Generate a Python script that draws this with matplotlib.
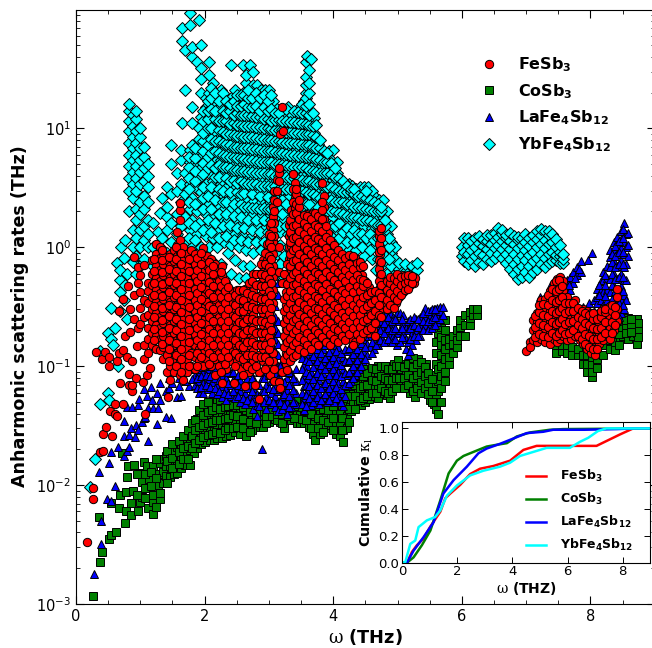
"""Anharmonic scattering rates of skutterudites, with cumulative kappa inset."""

import matplotlib
matplotlib.use('Agg')
import matplotlib.pyplot as plt
from matplotlib.ticker import MultipleLocator

plt.rcParams.update({
    'font.family': 'DejaVu Sans',
    'mathtext.fontset': 'dejavuserif',
    'xtick.direction': 'in',
    'ytick.direction': 'in',
})

# YbFe4Sb12: (omega, [rates])
YB_LEFT = [
    (0.22, [0.0097]), (0.30, [0.0166]), (0.37, [0.048, 0.135]), (0.49, [0.19]),
    (0.50, [0.06]), (0.51, [0.052]), (0.55, [0.17, 0.31]), (0.58, [0.15]),
    (0.61, [0.21]), (0.66, [0.10]), (0.64, [0.74]), (0.68, [0.29, 0.42]),
    (0.69, [0.53, 0.65]), (0.70, [1.0]), (0.74, [0.81, 0.36]), (0.76, [1.15, 0.48]),
    (0.79, [0.25, 0.6]), (0.82, [2.0, 3.0, 3.8, 4.8, 6.0, 7.6, 9.5, 11.5, 14, 16]),
    (0.88, [0.75, 1.0, 1.4, 2.6, 3.4, 4.3, 5.4, 6.8, 8.5, 10.5, 13]),
    (0.94, [0.6, 0.85, 1.2, 1.7, 2.1, 3.0, 3.8, 4.8, 6.0, 7.5, 9.5, 12, 14]),
    (1.00, [0.7, 1.0, 1.4, 1.9, 2.4, 3.4, 4.3, 5.4, 6.8, 8.5, 10]),
    (1.06, [0.8, 1.15, 1.5, 2.1, 2.7, 3.6, 4.6, 5.8, 7.0]),
    (1.12, [1.0, 1.3, 1.7, 2.4, 3.2, 4.0, 5.0]),
]
YB_CLOUD = [
    (1.20, [0.5, 0.7, 1.0, 1.6]), (1.27, [0.6, 0.85, 1.35]), (1.31, [1.0, 1.95]),
    (1.34, [0.75, 1.2, 2.6]), (1.42, [0.9, 1.4, 1.8, 2.2, 3.2]),
    (1.48, [0.7, 1.1, 1.6, 2.8, 5.0, 7.2]), (1.57, [1.3, 1.9, 3.0, 4.2]),
    (1.63, [0.9, 1.5, 2.4, 3.4, 5.4, 6.6]), (1.65, [11, 54, 70]),
    (1.70, [1.1, 1.8, 2.8, 4.2, 21, 46]), (1.77, [1.4, 2.1, 3.4, 5.2, 6.6, 74, 94]),
    (1.81, [1.0, 1.7, 2.6, 4.0, 7.2, 11, 15, 40, 48]),
    (1.88, [1.3, 2.0, 3.1, 4.9, 6.2, 36]), (1.91, [1.6, 2.4, 3.8, 8.2, 10, 82]),
    (1.95, [1.0, 2.9, 4.6, 5.8, 7.0, 12.5, 20, 26, 32, 50]),
    (2.02, [0.8, 1.25, 1.9, 3.4, 5.2, 6.5, 9, 11, 15, 18]),
    (2.07, [1.0, 1.5, 2.3, 2.9, 4.2, 7.4, 13, 20, 28, 36]),
    (2.13, [0.75, 1.2, 1.8, 3.6, 5.6, 9, 11, 16, 24]),
    (2.19, [1.0, 1.4, 2.2, 2.8, 4.4, 7, 13, 19]),
    (2.25, [0.72, 1.7, 3.4, 5.4, 8.6, 10.5, 15.5, 21]),
    (2.30, [1.1, 2.1, 2.7, 4.2, 6.7, 12.5, 18]),
    (2.36, [0.9, 1.35, 1.7, 3.3, 5.2, 8.2, 10, 15]),
    (2.41, [0.6, 1.05, 2.1, 2.6, 4.1, 6.5, 12, 18, 34]),
    (2.47, [0.78, 1.3, 1.65, 3.2, 5.1, 8, 9.8, 14.5, 21]),
    (2.53, [0.55, 1.0, 2.0, 2.5, 4, 6.2, 11.8, 17]),
    (2.59, [0.7, 1.25, 1.6, 3.1, 5, 7.8, 9.6, 14, 20, 34]),
    (2.65, [0.55, 0.95, 1.95, 2.45, 3.9, 6.1, 11.5, 16.5, 24, 28]),
    (2.71, [0.7, 1.2, 1.55, 3, 4.8, 7.6, 9.4, 13.8, 19, 34]),
    (2.76, [0.9, 1.9, 2.4, 3.8, 6, 11.2, 16, 23, 30]),
    (2.82, [1.15, 1.5, 2.95, 4.7, 7.4, 9.2, 13.5, 18, 23]),
    (2.88, [0.95, 1.85, 2.35, 3.7, 5.8, 11, 15.5, 21]),
    (2.94, [1.45, 2.9, 4.6, 7.2, 9, 13, 18, 21]),
    (3.00, [0.75, 1.8, 2.3, 3.6, 5.7, 10.8, 15, 21]),
    (3.06, [1.1, 1.4, 2.8, 4.5, 7, 8.8, 12.8, 17]),
    (3.12, [0.6, 0.88, 1.8, 3.5, 5.5, 10.5, 14.5]),
    (3.18, [0.72, 1.05, 1.35, 2.2, 2.7, 4.4, 6.9, 8.6, 12]),
    (3.24, [0.56, 0.85, 1.7, 3.4, 5.4, 10.2, 13.5]),
    (3.30, [1.0, 1.3, 2.1, 2.6, 4.3, 6.7, 8.4, 11.8, 15]),
    (3.36, [4.8, 5.3, 9.9, 13]),
    (3.42, [3.3, 4.2, 6.6, 8.2, 11.5]),
    (3.48, [2.7, 5.2, 9.6, 12.5, 15]),
    (3.54, [2.1, 3.2, 4.1, 6.4, 8, 11.2, 17]),
    (3.58, [20, 23, 27, 36]), (3.60, [2.5, 5.0, 9.4, 12, 14.5, 41]),
    (3.65, [2.1, 3.1, 4, 6.2, 7.8, 11, 38]),
    (3.70, [2.4, 4.9, 9.2, 12.2]),
    (3.76, [2.2, 3.0, 3.9, 6.1, 7.4]),
    (3.82, [3.7, 4.8, 5.5]),
    (3.88, [1.6, 2.9, 3.8, 6.0]),
    (3.94, [1.3, 2.3, 4.7, 5.6, 6.5]),
    (4.00, [1.2, 1.8, 2.8, 3.7, 6.6]),
    (4.06, [1.1, 1.4, 2.2, 4.2, 5.2]),
    (4.12, [1.0, 1.7, 2.7, 3.5]),
    (4.18, [1.25, 2.1, 3.2]),
    (4.24, [0.95, 1.6, 2.6, 3.4]),
    (4.30, [1.2, 2.0, 3.3]),
    (4.36, [0.95, 1.55, 2.5, 3.1]),
    (4.42, [1.15, 1.95, 2.9, 3.2]),
    (4.48, [0.85, 1.5, 2.4, 3.2]),
    (4.54, [1.1, 1.9, 2.8, 3.2]),
    (4.60, [0.8, 1.45, 2.3, 3.0]),
    (4.66, [0.65, 1.05, 1.85, 2.6]),
    (4.72, [1.4, 2.2, 2.5]),
    (4.78, [0.72, 1.0, 1.8, 2.5]),
    (4.84, [0.6, 1.3, 2.0]),
    (4.90, [0.7, 0.9, 1.1, 1.5]),
    (4.96, [0.6, 0.8, 1.0]),
    (5.03, [0.66, 0.74]), (5.12, [0.62, 0.72]), (5.22, [0.6, 0.7]), (5.30, [0.65, 0.74]),
]
YB_FILL = [
    (1.75, [1.2, 1.6, 2.4, 3.1, 3.8, 4.7, 5.8]),
    (1.85, [1.15, 1.5, 2.3, 3.6, 4.4, 5.6, 6.9]),
    (1.98, [1.4, 2.1, 2.6, 3.2, 4.1, 5.1, 6.4, 7.8, 9.2, 11.5, 14]),
    (2.05, [1.7, 2.7, 4.6, 5.8, 7.2, 10, 12, 14, 17]),
    (2.10, [1.35, 2.1, 3.2, 4.9, 6.2, 8.2, 10, 14.5, 18, 22]),
    (2.16, [1.6, 2.5, 3.9, 4.6, 6.4, 7.8, 12, 14, 20]),
    (2.22, [1.2, 1.9, 3.1, 3.9, 4.9, 6.2, 7.8, 9.6, 11.5, 17]),
    (2.28, [1.5, 2.4, 3.0, 4.7, 6, 7.5, 9.4, 11.5, 14, 20]),
    (2.34, [1.25, 1.9, 2.4, 3.8, 4.7, 5.9, 7.4, 9, 11.5, 13.5, 17]),
    (2.39, [1.55, 2.9, 3.6, 4.6, 5.7, 7.2, 9, 10.8, 14, 16]),
    (2.45, [1.15, 1.85, 2.3, 3.7, 4.5, 5.7, 7, 8.8, 11, 13, 17]),
    (2.50, [1.45, 2.9, 3.5, 4.5, 5.6, 7, 8.7, 10.6, 13.5, 15.5, 19]),
    (2.56, [1.15, 1.8, 2.3, 2.8, 3.6, 4.4, 5.6, 6.9, 8.6, 10.7, 13, 15.5, 19]),
    (2.62, [1.45, 2.2, 2.85, 3.5, 4.4, 5.5, 6.9, 8.5, 10.5, 13, 16, 19]),
    (2.68, [1.1, 1.7, 2.2, 3.4, 4.3, 5.4, 6.8, 8.4, 10.4, 13, 15, 18, 21]),
    (2.74, [1.4, 2.15, 2.8, 3.4, 4.3, 5.4, 6.7, 8.4, 10.4, 12.8, 15, 18]),
    (2.80, [1.1, 1.7, 2.15, 3.4, 4.2, 5.3, 6.7, 8.3, 10.3, 12.5, 15.5, 20]),
    (2.86, [1.35, 2.1, 2.7, 3.3, 4.2, 5.2, 6.6, 8.2, 10.2, 12.5, 14, 18]),
    (2.92, [1.1, 1.7, 2.15, 3.3, 4.2, 5.2, 6.4, 8.1, 10, 12, 15, 19]),
    (2.98, [1.35, 2.1, 2.65, 3.3, 4.1, 5.2, 6.4, 8, 10, 12, 14, 17]),
    (3.04, [1.7, 2.1, 3.2, 4.1, 5.2, 6.4, 8, 9.8, 11.5, 14.5, 19]),
    (3.09, [2.2, 2.6, 3.3, 4, 5, 6.3, 7.9, 9.6, 11.8, 13.5]),
    (3.15, [1.5, 2.1, 3.1, 4, 5, 6.2, 7.8, 9.6, 11.8, 13.5]),
    (3.21, [1.9, 2.5, 3.1, 3.9, 4.9, 6.2, 7.7, 9.6, 11.5]),
    (3.27, [1.5, 2.3, 3.1, 3.9, 4.9, 6.1, 7.6, 9.4, 11.5, 14.5]),
    (3.33, [3.1, 3.8, 4.8, 6, 7.6, 9.3, 11.4]),
    (3.39, [3.8, 4.7, 6, 7.5, 9.2, 11.3, 14]),
    (3.45, [3.0, 3.7, 4.7, 5.9, 7.4, 9.1, 11.2, 13.7]),
    (3.51, [2.4, 3, 3.7, 4.7, 5.9, 7.4, 9, 11, 13.5, 16]),
    (3.57, [2.3, 2.9, 3.6, 4.6, 5.8, 7.2, 9, 10.8, 13.5, 15.5, 18]),
    (3.63, [2.3, 2.8, 3.6, 4.5, 5.7, 7.2, 9, 10.6, 13, 16, 20, 24, 31]),
    (3.68, [2.8, 3.5, 4.4, 5.6, 7, 8.8, 10.5, 13.5]),
    (3.73, [2.7, 3.4, 4.3, 5.5, 6.8, 8.4, 10.6]),
    (3.79, [2.6, 3.4, 4.2, 5.4, 6.8, 8]),
    (3.85, [2.5, 3.3, 4.2, 5.2, 6.4]),
    (3.91, [2.0, 2.5, 3.2, 4.2, 5.2, 6.2]),
    (3.97, [1.5, 2, 2.5, 3.2, 4.1, 5.1]),
    (4.03, [1.5, 2.0, 2.4, 3.1, 3.9, 4.6]),
    (4.09, [1.2, 1.6, 1.95, 2.4, 3, 3.8]),
    (4.15, [1.35, 1.9, 2.4, 2.9, 3.6]),
    (4.21, [1.1, 1.45, 1.85, 2.3, 2.9, 3.3]),
    (4.27, [1.3, 1.8, 2.3, 2.9, 3.1]),
    (4.33, [1.1, 1.4, 1.8, 2.2, 2.8, 3.1]),
    (4.39, [1.3, 1.75, 2.2, 2.7]),
    (4.45, [1.0, 1.3, 1.7, 2.15, 2.7]),
    (4.51, [1.2, 1.7, 2.1, 2.6, 3.0]),
    (4.57, [0.95, 1.3, 1.65, 2.05, 2.5]),
    (4.63, [1.15, 1.6, 2.0, 2.4]),
    (4.69, [0.8, 1.2, 1.55, 2.0, 2.3]),
    (4.75, [0.9, 1.25, 1.55, 2.0, 2.2]),
    (4.81, [0.85, 1.15, 1.5, 1.7]),
    (4.87, [0.8, 1.0, 1.2]),
]
YB_ISLAND = [
    (6.00, [0.85, 1.0]), (6.03, [0.76, 0.92, 1.19]), (6.09, [0.72, 0.87, 1.04, 1.2]),
    (6.15, [0.78, 0.95, 1.12]), (6.21, [0.7, 0.84, 1.0, 1.2]),
    (6.27, [0.75, 0.9, 1.08, 1.24]), (6.33, [0.72, 0.86, 1.02, 1.18]),
    (6.39, [0.8, 0.96, 1.12, 1.28]), (6.45, [0.76, 0.9, 1.06, 1.26]),
    (6.51, [0.82, 0.98, 1.15, 1.32]), (6.57, [0.88, 1.04, 1.22, 1.45]),
    (6.63, [0.82, 0.96, 1.12, 1.3, 1.4]), (6.69, [0.74, 0.88, 1.04, 1.2, 1.28]),
    (6.75, [0.66, 0.8, 0.96, 1.14, 1.32]), (6.81, [0.6, 0.72, 0.88, 1.06, 1.24]),
    (6.87, [0.54, 0.66, 0.8, 0.98, 1.16, 1.22]), (6.93, [0.56, 0.7, 0.86, 1.04, 1.2]),
    (6.99, [0.62, 0.78, 0.94, 1.1, 1.3]), (7.05, [0.56, 0.7, 0.86, 1.02, 1.2]),
    (7.11, [0.62, 0.76, 0.92, 1.1, 1.28]), (7.17, [0.66, 0.82, 1.0, 1.18, 1.36]),
    (7.23, [0.72, 0.88, 1.06, 1.26, 1.42]), (7.29, [0.68, 0.82, 0.98, 1.16, 1.36]),
    (7.35, [0.74, 0.88, 1.06, 1.26, 1.36]), (7.41, [0.76, 0.92, 1.1, 1.3]),
    (7.47, [0.78, 0.86, 1.0, 1.18]), (7.53, [0.74, 0.84, 0.92, 1.05]),
    (7.58, [0.74, 0.8, 0.88]),
]

# CoSb3
CO_LEFT = [
    (0.27, [0.00117]), (0.36, [0.0054]), (0.38, [0.00226]), (0.40, [0.00272]),
    (0.51, [0.0035]), (0.54, [0.0071]), (0.55, [0.0038]), (0.62, [0.004]),
    (0.67, [0.0064]), (0.68, [0.0083]), (0.71, [0.0187]), (0.76, [0.0048]),
    (0.77, [0.0088]), (0.78, [0.0061]), (0.80, [0.0116]), (0.81, [0.0145]),
    (0.85, [0.0056, 0.0071]), (0.88, [0.009]), (0.90, [0.0148]), (0.97, [0.006]),
    (1.00, [0.0072, 0.0126]), (1.02, [0.008, 0.0107]), (1.05, [0.0155]),
    (1.11, [0.0145]), (1.125, [0.0064]), (1.14, [0.0112]), (1.19, [0.0057, 0.0072, 0.0083]),
    (1.20, [0.0145]), (1.28, [0.01, 0.0125]), (1.30, [0.0076, 0.0086, 0.0152]),
    (1.33, [0.0166]), (1.36, [0.0105, 0.013]), (1.40, [0.012, 0.0145, 0.0175]),
]
CO_BAND = [
    (1.46, [0.0117, 0.0145, 0.0182]), (1.52, [0.0125, 0.0155, 0.0195]),
    (1.57, [0.0127, 0.016, 0.021]), (1.63, [0.014, 0.0175, 0.022]),
    (1.70, [0.0148, 0.0185, 0.0232]), (1.77, [0.0148, 0.0197, 0.0245, 0.027]),
    (1.83, [0.0185, 0.0232, 0.029]), (1.88, [0.0205, 0.026, 0.031, 0.036]),
    (1.95, [0.022, 0.028, 0.034, 0.04]), (2.01, [0.023, 0.029, 0.036, 0.044]),
    (2.08, [0.024, 0.03, 0.037, 0.047]), (2.14, [0.024, 0.03, 0.038, 0.052]),
    (2.20, [0.0247, 0.032, 0.041, 0.05]), (2.27, [0.025, 0.031, 0.039, 0.048]),
    (2.34, [0.026, 0.033, 0.042]), (2.40, [0.0263, 0.032, 0.04, 0.05]),
    (2.47, [0.028, 0.035, 0.044]), (2.55, [0.027, 0.033, 0.041]),
    (2.65, [0.0257, 0.032, 0.04, 0.043]), (2.74, [0.029, 0.036, 0.046]),
    (2.86, [0.031, 0.038, 0.0457]), (2.91, [0.031, 0.035, 0.042]),
    (3.00, [0.034, 0.04, 0.047]), (3.09, [0.036, 0.043]), (3.17, [0.034, 0.049]),
    (3.24, [0.03, 0.037, 0.044]), (3.35, [0.035, 0.042, 0.05]),
    (3.43, [0.033, 0.04, 0.052]), (3.48, [0.0331, 0.039]), (3.55, [0.033, 0.04, 0.05]),
    (3.62, [0.031, 0.038, 0.047]), (3.69, [0.027, 0.035, 0.045]),
    (3.72, [0.024, 0.03, 0.038]), (3.80, [0.027, 0.034, 0.042, 0.05]),
    (3.88, [0.03, 0.037, 0.047]), (3.96, [0.032, 0.04, 0.05]),
    (4.05, [0.027, 0.034, 0.043, 0.054]), (4.10, [0.026, 0.033, 0.041]),
    (4.16, [0.0232, 0.029, 0.037, 0.047]), (4.21, [0.03, 0.038, 0.05, 0.062]),
    (4.27, [0.042, 0.053, 0.068]), (4.31, [0.048, 0.06, 0.0718]),
    (4.38, [0.05, 0.064, 0.08]), (4.44, [0.047, 0.058, 0.072, 0.086]),
    (4.50, [0.05, 0.062, 0.078, 0.09]), (4.56, [0.053, 0.066, 0.083]),
    (4.63, [0.056, 0.07, 0.09]), (4.70, [0.054, 0.068, 0.085, 0.10]),
    (4.77, [0.06, 0.075, 0.095]), (4.83, [0.057, 0.07, 0.088]),
    (4.88, [0.0537, 0.065, 0.08, 0.10]), (4.95, [0.068, 0.085, 0.105]),
    (5.00, [0.072, 0.09, 0.112]), (5.06, [0.075, 0.095]),
    (5.13, [0.068, 0.084, 0.105]), (5.20, [0.06, 0.075, 0.092, 0.115]),
    (5.27, [0.055, 0.068, 0.085, 0.105]), (5.32, [0.0766, 0.094, 0.115]),
    (5.38, [0.066, 0.08, 0.1]), (5.45, [0.06, 0.072, 0.09, 0.105]),
    (5.50, [0.052, 0.065, 0.08]), (5.56, [0.048, 0.058, 0.072]),
    (5.60, [0.044, 0.055, 0.068, 0.085, 0.105, 0.13, 0.16]),
    (5.63, [0.04, 0.05, 0.062, 0.075, 0.095, 0.19]),
    (5.68, [0.05, 0.065, 0.082, 0.1, 0.125, 0.15, 0.175, 0.215]),
    (5.74, [0.075, 0.09, 0.115, 0.14, 0.165, 0.2, 0.245]),
    (5.80, [0.105, 0.12, 0.15, 0.17]), (5.86, [0.13, 0.155, 0.18]),
    (5.92, [0.145, 0.166, 0.2]), (5.97, [0.18, 0.215, 0.245]),
    (6.05, [0.18, 0.22, 0.27]), (6.12, [0.22, 0.255, 0.285]), (6.18, [0.27, 0.3]),
    (6.23, [0.27, 0.302]),
]
CO_FILL = [
    (0.95, [0.0082, 0.0125]), (1.08, [0.0078, 0.0095, 0.0125]), (1.17, [0.0098, 0.0128]),
    (1.25, [0.0065, 0.0115, 0.0165]), (1.42, [0.0105, 0.016, 0.0195]),
    (1.50, [0.0138, 0.017, 0.022]), (1.60, [0.015, 0.019, 0.0235]),
    (1.67, [0.0165, 0.0205, 0.026]), (1.74, [0.0165, 0.0215, 0.029]),
    (1.80, [0.0205, 0.026, 0.033]), (1.85, [0.0225, 0.029, 0.035]),
    (1.92, [0.024, 0.031, 0.043]), (1.98, [0.0255, 0.032, 0.039, 0.048]),
    (2.05, [0.0265, 0.033, 0.041, 0.05]), (2.11, [0.027, 0.034, 0.043]),
    (2.17, [0.028, 0.035, 0.045]), (2.24, [0.0275, 0.035, 0.044, 0.052]),
    (2.31, [0.029, 0.036, 0.045]), (2.37, [0.03, 0.037, 0.046]),
    (2.44, [0.0305, 0.039, 0.047]), (2.51, [0.031, 0.038, 0.047]),
    (2.60, [0.03, 0.036, 0.045]), (2.70, [0.028, 0.034, 0.041]),
    (2.80, [0.033, 0.04, 0.048]), (2.95, [0.033, 0.038, 0.045]),
    (3.05, [0.038, 0.044]), (3.13, [0.035, 0.04, 0.047]), (3.21, [0.033, 0.04, 0.047]),
    (3.30, [0.038, 0.045]), (3.39, [0.037, 0.046]), (3.52, [0.036, 0.045]),
    (3.58, [0.035, 0.043]), (3.66, [0.03, 0.04, 0.05]), (3.76, [0.03, 0.037, 0.046]),
    (3.84, [0.028, 0.035, 0.044, 0.052]), (3.92, [0.034, 0.043, 0.054]),
    (4.00, [0.029, 0.037, 0.046, 0.057]), (4.13, [0.029, 0.037, 0.046, 0.056]),
    (4.24, [0.034, 0.044, 0.056, 0.068]), (4.34, [0.044, 0.056, 0.07, 0.082]),
    (4.41, [0.052, 0.065, 0.082, 0.09]), (4.47, [0.054, 0.068, 0.082, 0.095]),
    (4.53, [0.056, 0.07, 0.088]), (4.60, [0.06, 0.076, 0.096]),
    (4.67, [0.06, 0.075, 0.095]), (4.74, [0.065, 0.082, 0.1]),
    (4.80, [0.062, 0.079, 0.1]), (4.86, [0.06, 0.076, 0.095]),
    (4.92, [0.062, 0.076, 0.094]), (4.98, [0.066, 0.08, 0.1]),
    (5.03, [0.08, 0.1]), (5.10, [0.065, 0.08, 0.098]), (5.17, [0.07, 0.085, 0.105]),
    (5.24, [0.062, 0.08, 0.098, 0.118]), (5.30, [0.065, 0.085, 0.105]),
    (5.36, [0.06, 0.074, 0.09, 0.108]), (5.42, [0.066, 0.082, 0.098]),
    (5.48, [0.058, 0.072, 0.088]), (5.53, [0.05, 0.062, 0.078]),
]
CO_RIGHT = [
    (7.47, [0.13, 0.15]), (7.56, [0.135, 0.15]), (7.64, [0.13, 0.15]), (7.72, [0.125, 0.145]),
    (7.81, [0.124, 0.14]), (7.89, [0.105, 0.125]), (7.95, [0.09, 0.105, 0.125]),
    (8.02, [0.081, 0.09, 0.105, 0.12]), (8.10, [0.096, 0.115, 0.135]),
    (8.20, [0.125, 0.15]), (8.30, [0.14, 0.165, 0.19]), (8.38, [0.137, 0.16, 0.185, 0.21]),
    (8.46, [0.17, 0.2, 0.235]), (8.51, [0.18, 0.21, 0.26]), (8.58, [0.17, 0.2, 0.23, 0.255]),
    (8.67, [0.18, 0.21, 0.25]), (8.72, [0.155, 0.19, 0.22, 0.25]), (8.74, [0.175, 0.205, 0.23]),
    (8.44, [0.15, 0.185, 0.215]), (8.55, [0.19, 0.22, 0.245]), (8.63, [0.195, 0.225, 0.25]),
]

# LaFe4Sb12
LA_LEFT = [
    (0.28, [0.0018]), (0.35, [0.013]), (0.39, [0.0032, 0.005]), (0.48, [0.0076]),
    (0.52, [0.0152]), (0.55, [0.0074, 0.0189]), (0.61, [0.0098]), (0.66, [0.021]),
    (0.75, [0.0174, 0.0257, 0.0348]), (0.79, [0.0195, 0.0457]), (0.83, [0.021, 0.0263]),
    (0.85, [0.0302]), (0.87, [0.0457]), (0.92, [0.0252]), (0.94, [0.032]), (0.96, [0.0291]),
    (0.97, [0.0472]), (0.985, [0.0533]), (1.02, [0.034]), (1.06, [0.064, 0.037]),
    (1.07, [0.0377]), (1.11, [0.0562]), (1.125, [0.0235, 0.0443]), (1.16, [0.0665]),
    (1.18, [0.052]), (1.20, [0.0443]), (1.255, [0.0327, 0.06]), (1.28, [0.0443]),
    (1.30, [0.052, 0.072]), (1.395, [0.0377, 0.062]), (1.44, [0.065, 0.08]),
    (1.48, [0.0365]), (1.57, [0.0554]), (1.63, [0.0562]), (1.75, [0.068]),
]
LA_BAND = [
    (1.85, [0.07, 0.085, 0.1]), (1.92, [0.06, 0.075, 0.09]), (1.98, [0.059, 0.072, 0.09]),
    (2.05, [0.064, 0.078, 0.095]), (2.12, [0.06, 0.074, 0.09]), (2.20, [0.058, 0.07, 0.085]),
    (2.27, [0.055, 0.068, 0.082]), (2.34, [0.052, 0.065, 0.08]), (2.41, [0.056, 0.07, 0.088]),
    (2.48, [0.054, 0.066, 0.08]), (2.55, [0.05, 0.062, 0.076]), (2.63, [0.048, 0.06, 0.074]),
    (2.70, [0.056, 0.07, 0.09]), (2.76, [0.044, 0.054, 0.066, 0.08]),
    (2.81, [0.038, 0.047, 0.058]), (2.89, [0.0201, 0.05, 0.062, 0.08]),
    (2.96, [0.044, 0.055, 0.07, 0.09]), (3.03, [0.048, 0.06, 0.075]),
    (3.06, [0.14, 0.17, 0.2, 0.24]), (3.10, [0.045, 0.056, 0.07, 0.088, 0.11, 0.135, 0.17, 0.21, 0.26, 0.32]),
    (3.14, [0.042, 0.05, 0.062, 0.08, 0.1, 0.125, 0.155, 0.19, 0.24, 0.4, 0.5]),
    (3.20, [0.044, 0.056, 0.07, 0.09, 0.11]), (3.28, [0.04, 0.05, 0.063, 0.08]),
    (3.35, [0.045, 0.056, 0.07, 0.088]), (3.42, [0.048, 0.06, 0.075, 0.095]),
    (3.54, [0.043, 0.054, 0.068, 0.085, 0.105, 0.13]),
    (3.60, [0.05, 0.062, 0.078, 0.1, 0.125]), (3.66, [0.047, 0.058, 0.072, 0.09, 0.115, 0.14]),
    (3.72, [0.052, 0.065, 0.082, 0.105, 0.13]), (3.78, [0.048, 0.06, 0.076, 0.095, 0.12, 0.15]),
    (3.84, [0.055, 0.07, 0.088, 0.11, 0.14]), (3.90, [0.05, 0.062, 0.078, 0.1, 0.125, 0.16]),
    (3.96, [0.056, 0.07, 0.09, 0.112, 0.14]), (4.02, [0.05, 0.063, 0.08, 0.1, 0.125]),
    (4.08, [0.056, 0.072, 0.09, 0.114, 0.145]), (4.16, [0.046, 0.06, 0.075, 0.095, 0.12]),
    (4.22, [0.068, 0.085, 0.108, 0.135]), (4.28, [0.075, 0.095, 0.12, 0.15]),
    (4.34, [0.084, 0.106, 0.132, 0.166]), (4.40, [0.095, 0.12, 0.15]),
    (4.47, [0.11, 0.135, 0.17, 0.19]), (4.53, [0.125, 0.155, 0.19]),
    (4.57, [0.146, 0.18, 0.22]), (4.63, [0.14, 0.17, 0.21]), (4.70, [0.15, 0.18, 0.22, 0.26]),
    (4.76, [0.17, 0.21, 0.25]), (4.82, [0.16, 0.2, 0.24, 0.28]), (4.88, [0.18, 0.22, 0.28]),
    (4.93, [0.178, 0.22, 0.26]), (4.99, [0.15, 0.19, 0.24, 0.28]), (5.04, [0.16, 0.2, 0.28]),
    (5.09, [0.19, 0.23, 0.27]), (5.13, [0.14, 0.17, 0.21]), (5.17, [0.124, 0.16, 0.2, 0.24]),
    (5.23, [0.15, 0.19, 0.23]), (5.29, [0.165, 0.2, 0.25]), (5.35, [0.18, 0.22, 0.26]),
    (5.43, [0.22, 0.26, 0.31]), (5.50, [0.22, 0.265, 0.29]), (5.56, [0.24, 0.27, 0.3]),
    (5.62, [0.235, 0.27, 0.31]), (5.66, [0.25, 0.29, 0.316]), (5.71, [0.27, 0.316]),
]
LA_FILL = [
    (1.50, [0.072, 0.09]), (1.60, [0.068, 0.08, 0.098]), (1.70, [0.075, 0.09]),
    (1.80, [0.078, 0.094]), (1.88, [0.065, 0.08, 0.095]), (1.95, [0.067, 0.082, 0.098]),
    (2.02, [0.07, 0.085]), (2.08, [0.067, 0.082, 0.1]), (2.16, [0.065, 0.08, 0.095]),
    (2.23, [0.062, 0.076, 0.092]), (2.30, [0.06, 0.074, 0.09]), (2.37, [0.058, 0.072, 0.09]),
    (2.44, [0.062, 0.076, 0.09]), (2.52, [0.056, 0.07, 0.085]), (2.59, [0.054, 0.068, 0.084]),
    (2.66, [0.052, 0.065, 0.08]), (2.73, [0.05, 0.062, 0.08, 0.096]),
    (2.85, [0.046, 0.056, 0.07, 0.09]), (2.93, [0.05, 0.062, 0.08, 0.098]),
    (3.00, [0.052, 0.066, 0.084]), (3.06, [0.05, 0.064, 0.08, 0.1]),
    (3.17, [0.05, 0.064, 0.08, 0.1]), (3.24, [0.047, 0.058, 0.073, 0.09]),
    (3.31, [0.045, 0.056, 0.07, 0.09]), (3.38, [0.05, 0.063, 0.08]),
    (3.51, [0.048, 0.06, 0.076, 0.095, 0.118]), (3.57, [0.046, 0.057, 0.07, 0.09, 0.112, 0.14]),
    (3.63, [0.054, 0.068, 0.085, 0.11, 0.135]), (3.69, [0.05, 0.062, 0.078, 0.098, 0.122, 0.15]),
    (3.75, [0.055, 0.07, 0.088, 0.11, 0.14]), (3.81, [0.052, 0.065, 0.082, 0.102, 0.13]),
    (3.87, [0.058, 0.072, 0.094, 0.118, 0.15]), (3.93, [0.052, 0.066, 0.084, 0.105, 0.132]),
    (3.99, [0.06, 0.075, 0.095, 0.12, 0.15]), (4.05, [0.054, 0.067, 0.085, 0.107, 0.135]),
    (4.12, [0.05, 0.064, 0.082, 0.103, 0.13]), (4.19, [0.056, 0.07, 0.088, 0.11, 0.14]),
    (4.25, [0.072, 0.09, 0.113, 0.142]), (4.31, [0.08, 0.1, 0.126, 0.158]),
    (4.37, [0.09, 0.113, 0.14, 0.176]), (4.44, [0.1, 0.126, 0.158, 0.19]),
    (4.50, [0.115, 0.145, 0.18]), (4.60, [0.13, 0.16, 0.2, 0.24]),
    (4.66, [0.15, 0.185, 0.23]), (4.73, [0.165, 0.2, 0.24]), (4.79, [0.16, 0.19, 0.23]),
    (4.85, [0.17, 0.21, 0.26]), (4.91, [0.16, 0.2, 0.24]), (4.96, [0.17, 0.21, 0.25]),
    (5.07, [0.175, 0.21, 0.25]), (5.20, [0.135, 0.17, 0.21, 0.25]), (5.26, [0.18, 0.22, 0.26]),
    (5.32, [0.18, 0.215, 0.25]), (5.39, [0.2, 0.24, 0.28]), (5.47, [0.2, 0.24, 0.29]),
    (5.53, [0.21, 0.25, 0.3]), (5.59, [0.22, 0.26, 0.3]),
]
LA_RIGHT = [
    (7.21, [0.3, 0.385]), (7.37, [0.35, 0.47]), (7.50, [0.4, 0.5]), (7.63, [0.4, 0.53]),
    (7.68, [0.44, 0.56]), (7.73, [0.5, 0.62]), (7.79, [0.58, 0.68]), (7.86, [0.62, 0.76]),
    (7.97, [0.78]), (8.02, [0.89]), (7.89, [0.25, 0.316]), (7.98, [0.28, 0.34]),
    (8.05, [0.29, 0.36]), (8.10, [0.34, 0.385, 0.45]), (8.16, [0.36, 0.44, 0.52]),
    (8.20, [0.33, 0.42, 0.53, 0.62]), (8.26, [0.36, 0.44, 0.55, 0.7]),
    (8.30, [0.32, 0.42, 0.54, 0.68, 0.83, 0.95]), (8.36, [0.28, 0.37, 0.47, 0.6, 0.76, 0.94, 1.1]),
    (8.41, [0.24, 0.32, 0.42, 0.54, 0.7, 0.88, 1.05, 1.23]),
    (8.48, [0.28, 0.36, 0.47, 0.6, 0.78, 0.98, 1.18, 1.38]),
    (8.53, [0.3, 0.4, 0.53, 0.68, 0.88, 1.1, 1.6]), (8.56, [0.36, 0.53, 0.72, 1.0, 1.3]),
    (8.59, [0.85, 1.05, 1.31]),
    (7.66, [0.48]), (7.76, [0.55]), (7.83, [0.66]), (8.13, [0.4, 0.48]), (8.23, [0.39, 0.48, 0.59]),
    (8.33, [0.37, 0.48, 0.6, 0.75, 0.88]), (8.39, [0.33, 0.43, 0.54, 0.68, 0.85, 1.02]),
    (8.45, [0.26, 0.34, 0.44, 0.56, 0.72, 0.92, 1.12]), (8.51, [0.33, 0.43, 0.56, 0.72, 0.92, 1.2, 1.42]),
]

# FeSb3
FE_LEFT = [
    (0.177, [0.0033]), (0.26, [0.0076, 0.0095]), (0.31, [0.131]), (0.37, [0.019]),
    (0.40, [0.114]), (0.415, [0.027]), (0.425, [0.0195]), (0.45, [0.131]), (0.467, [0.031]),
    (0.52, [0.10, 0.119]), (0.53, [0.042]), (0.555, [0.026]), (0.607, [0.04, 0.048]),
    (0.63, [0.111]), (0.643, [0.038]), (0.67, [0.128, 0.29]), (0.685, [0.072]),
    (0.726, [0.048]), (0.736, [0.137, 0.37]), (0.76, [0.18]), (0.80, [0.119]),
    (0.81, [0.47]), (0.83, [0.0695, 0.086]), (0.84, [0.193, 0.3]), (0.866, [0.062]),
    (0.876, [0.11, 0.07]), (0.90, [0.83, 0.25, 0.4]), (0.93, [0.079]), (0.944, [0.149]),
    (0.97, [0.21, 0.5, 0.68]), (1.00, [0.226, 0.31, 0.42, 0.58]), (1.04, [0.073]),
    (1.05, [0.71, 0.36, 0.26]), (1.06, [0.116, 0.151]), (1.07, [0.04]), (1.11, [0.085]),
    (1.436, [0.055]), (1.15, [0.096]),
]
FE_BLOB1 = [
    (1.12, [0.13, 0.17, 0.21, 0.27, 0.34, 0.43, 0.5]),
    (1.18, [0.15, 0.19, 0.24, 0.3, 0.38, 0.48, 0.6, 0.78]),
    (1.25, [0.14, 0.18, 0.22, 0.28, 0.35, 0.44, 0.55, 0.7, 0.88, 1.07]),
    (1.30, [0.137, 0.17, 0.21, 0.26, 0.33, 0.41, 0.52, 0.65, 0.82, 1.0]),
    (1.36, [0.115, 0.145, 0.18, 0.23, 0.29, 0.37, 0.46, 0.58, 0.72, 0.9]),
    (1.42, [0.09, 0.125, 0.155, 0.2, 0.25, 0.31, 0.39, 0.49, 0.62, 0.78]),
    (1.46, [0.077, 0.1, 0.14, 0.175, 0.22, 0.275, 0.35, 0.44, 0.55, 0.69, 0.87]),
    (1.52, [0.09, 0.115, 0.15, 0.19, 0.24, 0.3, 0.38, 0.48, 0.6, 0.76, 0.95]),
    (1.57, [0.1, 0.13, 0.165, 0.21, 0.26, 0.33, 0.42, 0.53, 0.67, 0.84, 1.05, 1.35]),
    (1.61, [0.085, 0.11, 0.145, 0.18, 0.23, 0.29, 0.36, 0.46, 0.58, 0.74, 0.92, 1.15, 1.7, 2.06, 2.35]),
    (1.67, [0.077, 0.1, 0.125, 0.16, 0.2, 0.25, 0.32, 0.4, 0.5, 0.64, 0.8, 1.0]),
    (1.73, [0.09, 0.115, 0.14, 0.18, 0.22, 0.28, 0.35, 0.44, 0.56, 0.7, 0.88]),
    (1.79, [0.1, 0.13, 0.16, 0.2, 0.25, 0.31, 0.39, 0.5, 0.62, 0.78, 0.95]),
    (1.85, [0.095, 0.12, 0.15, 0.185, 0.23, 0.29, 0.36, 0.45, 0.57, 0.72, 0.88]),
    (1.91, [0.11, 0.14, 0.17, 0.21, 0.26, 0.33, 0.42, 0.52, 0.66, 0.82]),
    (1.98, [0.1, 0.13, 0.16, 0.195, 0.245, 0.31, 0.39, 0.49, 0.62, 0.78, 0.98]),
    (2.04, [0.115, 0.145, 0.18, 0.225, 0.28, 0.35, 0.44, 0.56, 0.7, 0.85]),
    (2.10, [0.1, 0.13, 0.165, 0.205, 0.26, 0.33, 0.41, 0.52, 0.65, 0.8]),
    (2.16, [0.085, 0.115, 0.145, 0.18, 0.23, 0.29, 0.37, 0.46, 0.58, 0.73]),
    (2.22, [0.1, 0.13, 0.165, 0.21, 0.26, 0.33, 0.41, 0.52, 0.64]),
    (2.27, [0.072, 0.115, 0.145, 0.185, 0.23, 0.29, 0.37, 0.46, 0.58, 0.69]),
    (2.34, [0.095, 0.125, 0.16, 0.2, 0.25, 0.32, 0.4, 0.5]),
    (2.40, [0.11, 0.14, 0.175, 0.22, 0.28, 0.35, 0.44]),
    (2.45, [0.072, 0.125, 0.155, 0.195, 0.245, 0.31, 0.38]),
    (2.50, [0.11, 0.14, 0.175, 0.22, 0.275, 0.35, 0.44]),
    (2.56, [0.095, 0.125, 0.155, 0.195, 0.245, 0.31, 0.38]),
    (2.63, [0.068, 0.105, 0.135, 0.17, 0.215, 0.27, 0.34, 0.45]),
    (2.69, [0.09, 0.12, 0.15, 0.19, 0.24, 0.3, 0.38, 0.5]),
    (2.76, [0.11, 0.135, 0.17, 0.215, 0.27, 0.34, 0.43, 0.6]),
    (2.78, [0.07]), (2.84, [0.053, 0.09, 0.125, 0.155, 0.195, 0.245, 0.31, 0.39, 0.49, 0.6]),
    (2.91, [0.11, 0.14, 0.175, 0.22, 0.28, 0.35, 0.44, 0.55, 0.7, 0.78]),
    (2.97, [0.1, 0.125, 0.16, 0.2, 0.25, 0.31, 0.39, 0.49, 0.62, 0.78, 0.93, 1.07]),
    (3.02, [0.085, 0.115, 0.145, 0.18, 0.23, 0.29, 0.37, 0.46, 0.58, 0.73, 0.9, 1.15, 1.5]),
    (3.06, [0.11, 0.13, 0.34, 0.44, 0.56, 0.7, 0.88, 1.1, 1.4, 1.8, 2.2]),
    (3.08, [0.075, 0.095, 1.25, 1.6, 2.0, 2.5, 2.95]),
    (3.12, [2.4, 3.0, 3.7]), (3.15, [0.073, 0.62, 1.0]), (3.16, [3.6, 4.2, 4.6]),
    (3.18, [0.066, 9.0]), (3.20, [15]), (3.22, [9.5]),
]
FE_FILL = [
    (1.22, [0.165, 0.205, 0.26, 0.32, 0.4, 0.5, 0.63, 0.8]),
    (1.33, [0.155, 0.195, 0.245, 0.31, 0.39, 0.49, 0.62, 0.78, 0.95]),
    (1.44, [0.11, 0.14, 0.165, 0.21, 0.265, 0.33, 0.42, 0.52, 0.66, 0.83]),
    (1.55, [0.1, 0.125, 0.158, 0.2, 0.25, 0.315, 0.4, 0.5, 0.63, 0.8, 1.0]),
    (1.64, [0.09, 0.115, 0.14, 0.18, 0.225, 0.285, 0.36, 0.45, 0.57, 0.72, 0.9]),
    (1.76, [0.1, 0.125, 0.16, 0.2, 0.25, 0.315, 0.4, 0.5, 0.63, 0.8]),
    (1.88, [0.1, 0.13, 0.165, 0.21, 0.26, 0.33, 0.41, 0.52, 0.65, 0.82]),
    (1.95, [0.12, 0.15, 0.185, 0.23, 0.29, 0.365, 0.46, 0.57, 0.73, 0.9]),
    (2.07, [0.105, 0.13, 0.165, 0.205, 0.26, 0.32, 0.41, 0.51, 0.64, 0.75]),
    (2.13, [0.12, 0.15, 0.19, 0.24, 0.3, 0.38, 0.47, 0.6, 0.7]),
    (2.25, [0.09, 0.12, 0.15, 0.19, 0.24, 0.3, 0.38, 0.47, 0.62]),
    (2.31, [0.105, 0.135, 0.17, 0.215, 0.27, 0.34, 0.43, 0.52]),
    (2.37, [0.12, 0.15, 0.19, 0.24, 0.3, 0.38, 0.46]),
    (2.47, [0.1, 0.13, 0.165, 0.205, 0.26, 0.33, 0.4]),
    (2.53, [0.12, 0.15, 0.19, 0.235, 0.29, 0.37, 0.44]),
    (2.60, [0.085, 0.115, 0.145, 0.185, 0.23, 0.29, 0.36, 0.44]),
    (2.66, [0.1, 0.125, 0.16, 0.2, 0.25, 0.32, 0.41]),
    (2.73, [0.095, 0.125, 0.16, 0.2, 0.25, 0.315, 0.4, 0.52]),
    (2.80, [0.1, 0.12, 0.15, 0.19, 0.24, 0.3, 0.38, 0.48, 0.6]),
    (2.88, [0.12, 0.15, 0.19, 0.24, 0.3, 0.37, 0.47, 0.6, 0.72]),
    (2.94, [0.095, 0.12, 0.15, 0.19, 0.235, 0.3, 0.37, 0.47, 0.59, 0.72, 0.9]),
    (3.00, [0.11, 0.14, 0.175, 0.22, 0.275, 0.34, 0.43, 0.54, 0.68, 0.85, 1.08, 1.3]),
    (3.04, [0.16, 0.2, 0.25, 0.31, 0.4, 0.5, 0.63, 0.79, 1.0, 1.25, 1.6]),
    (3.26, [0.105, 0.13, 0.165, 0.205, 0.26, 0.33, 0.42, 0.52]),
    (3.31, [0.12, 0.15, 0.19, 0.24, 0.3, 0.38, 0.48, 0.62, 0.8, 1.0, 1.25, 1.55]),
    (3.35, [0.125, 0.16, 0.2, 0.25, 0.32, 0.4, 0.5, 0.65, 0.82, 1.02, 1.3, 1.62, 2.05]),
    (3.40, [0.135, 0.17, 0.22, 0.28, 0.35, 0.44, 0.55, 0.7, 0.88, 1.1, 1.38, 1.74, 2.15, 2.6, 3.5]),
    (3.45, [0.15, 0.19, 0.235, 0.3, 0.37, 0.47, 0.59, 0.74, 0.93, 1.17, 1.47, 1.85, 2.3]),
    (3.50, [0.15, 0.185, 0.235, 0.295, 0.37, 0.47, 0.59, 0.74, 0.93, 1.17, 1.47, 1.82]),
    (3.57, [0.17, 0.21, 0.27, 0.34, 0.42, 0.53, 0.67, 0.84, 1.05, 1.32, 1.65, 1.9]),
    (3.63, [0.16, 0.2, 0.25, 0.315, 0.395, 0.5, 0.62, 0.78, 0.98, 1.23, 1.55, 1.85]),
    (3.69, [0.18, 0.225, 0.28, 0.35, 0.44, 0.55, 0.7, 0.87, 1.1, 1.38, 1.72, 1.95]),
    (3.74, [0.17, 0.215, 0.27, 0.34, 0.43, 0.54, 0.68, 0.85, 1.07, 1.35, 1.68]),
    (3.80, [0.16, 0.2, 0.25, 0.315, 0.4, 0.5, 0.62, 0.78, 0.98, 1.23, 1.55, 1.95]),
    (3.86, [0.18, 0.225, 0.28, 0.35, 0.44, 0.55, 0.7, 0.88, 1.1, 1.38, 1.72, 2.2, 2.7]),
    (3.92, [0.17, 0.21, 0.27, 0.34, 0.42, 0.53, 0.67, 0.84, 1.06, 1.33]),
    (3.98, [0.16, 0.195, 0.245, 0.31, 0.39, 0.49, 0.62, 0.78, 0.98, 1.1]),
    (4.04, [0.18, 0.23, 0.29, 0.36, 0.46, 0.58, 0.73, 0.92]),
    (4.10, [0.17, 0.22, 0.275, 0.345, 0.44, 0.55, 0.69, 0.86]),
    (4.16, [0.19, 0.24, 0.3, 0.38, 0.48, 0.6, 0.76]),
    (4.22, [0.175, 0.22, 0.28, 0.35, 0.44, 0.55, 0.69, 0.84]),
    (4.28, [0.17, 0.2, 0.25, 0.32, 0.4, 0.5, 0.63, 0.78]),
    (4.34, [0.16, 0.22, 0.28, 0.35, 0.44, 0.56, 0.7, 0.82]),
    (4.40, [0.2, 0.25, 0.32, 0.4, 0.5, 0.63, 0.72]),
    (4.45, [0.18, 0.23, 0.29, 0.36, 0.46, 0.58, 0.7]),
    (4.50, [0.2, 0.26, 0.33, 0.42, 0.52]),
    (4.56, [0.19, 0.24, 0.3, 0.37, 0.46]),
    (4.62, [0.2, 0.26, 0.32, 0.4]),
    (4.73, [0.3, 0.37, 0.46, 0.58, 0.72, 0.88, 1.0, 1.2]),
    (4.80, [0.33, 0.4, 0.48]), (4.86, [0.3, 0.37, 0.46, 0.53]), (4.92, [0.35, 0.43, 0.52]),
    (4.97, [0.34, 0.41, 0.5, 0.57]), (5.03, [0.38, 0.46, 0.54]), (5.09, [0.42, 0.5, 0.58]),
    (5.15, [0.47, 0.54]), (5.20, [0.48, 0.55]), (5.25, [0.5, 0.56]),
]
FE_BLOB2 = [
    (3.20, [0.09, 0.5]), (3.24, [0.115, 0.145, 0.18, 0.23, 0.29, 0.37, 0.6]),
    (3.28, [0.093, 0.125, 0.16, 0.2, 0.25, 0.31, 0.39, 0.49, 0.73]),
    (3.33, [0.11, 0.135, 0.17, 0.215, 0.27, 0.34, 0.43, 0.55, 0.7, 0.88, 1.1, 1.35, 1.7]),
    (3.37, [0.12, 0.15, 0.19, 0.24, 0.3, 0.38, 0.48, 0.6, 0.76, 0.95, 1.2, 1.5, 1.9, 2.4, 3.1, 4.1]),
    (3.42, [0.125, 0.16, 0.2, 0.25, 0.31, 0.39, 0.49, 0.62, 0.78, 0.98, 1.23, 1.55, 1.95, 2.3, 2.8, 3.1]),
    (3.47, [0.14, 0.175, 0.22, 0.275, 0.35, 0.44, 0.55, 0.69, 0.87, 1.1, 1.38, 1.74, 2.2, 2.5]),
    (3.54, [0.132, 0.165, 0.21, 0.26, 0.33, 0.41, 0.52, 0.65, 0.82, 1.03, 1.3, 1.6, 1.86]),
    (3.60, [0.15, 0.19, 0.24, 0.3, 0.38, 0.47, 0.6, 0.75, 0.94, 1.18, 1.48, 1.85]),
    (3.66, [0.14, 0.175, 0.22, 0.28, 0.35, 0.44, 0.55, 0.7, 0.88, 1.1, 1.38, 1.72]),
    (3.71, [0.16, 0.2, 0.25, 0.31, 0.39, 0.49, 0.62, 0.78, 0.98, 1.23, 1.55, 1.93]),
    (3.77, [0.15, 0.19, 0.24, 0.3, 0.375, 0.47, 0.6, 0.75, 0.94, 1.18, 1.48, 1.85]),
    (3.83, [0.175, 0.22, 0.275, 0.35, 0.44, 0.55, 0.69, 0.87, 1.1, 1.38, 1.74, 2.05, 2.4, 3.5]),
    (3.89, [0.16, 0.2, 0.25, 0.31, 0.39, 0.49, 0.62, 0.78, 0.98, 1.23, 1.5]),
    (3.95, [0.15, 0.185, 0.23, 0.29, 0.36, 0.45, 0.57, 0.72, 0.9, 1.15]),
    (4.01, [0.17, 0.21, 0.27, 0.33, 0.42, 0.53, 0.66, 0.83, 1.05]),
    (4.07, [0.16, 0.2, 0.25, 0.31, 0.39, 0.49, 0.62, 0.78, 0.95]),
    (4.13, [0.18, 0.225, 0.28, 0.36, 0.44, 0.56, 0.7, 0.88]),
    (4.19, [0.165, 0.21, 0.26, 0.33, 0.41, 0.52, 0.65, 0.82]),
    (4.25, [0.185, 0.235, 0.29, 0.37, 0.46, 0.58, 0.73, 0.86]),
    (4.31, [0.15, 0.21, 0.265, 0.33, 0.42, 0.53, 0.66, 0.84]),
    (4.37, [0.185, 0.235, 0.3, 0.37, 0.47, 0.59, 0.74]),
    (4.42, [0.17, 0.215, 0.27, 0.34, 0.43, 0.54, 0.68, 0.75]),
    (4.47, [0.19, 0.24, 0.3, 0.38, 0.47, 0.53, 0.69]),
    (4.53, [0.2, 0.25, 0.32, 0.4, 0.5]),
    (4.59, [0.21, 0.27, 0.34, 0.42]),
    (4.65, [0.18, 0.23, 0.29, 0.36, 0.43]),
    (4.71, [0.27, 0.33, 0.41, 0.52, 0.66, 0.78, 0.92, 1.07, 1.25, 1.38]),
    (4.75, [0.26, 0.38, 0.48, 0.6, 0.75, 0.95, 1.2, 1.45]),
    (4.83, [0.3, 0.36, 0.44, 0.52]), (4.89, [0.33, 0.41, 0.5, 0.56]),
    (4.94, [0.31, 0.38, 0.46, 0.55]), (4.99, [0.36, 0.43, 0.52, 0.6]),
    (5.06, [0.4, 0.48, 0.56]), (5.12, [0.44, 0.5, 0.57]), (5.17, [0.45, 0.52, 0.58]),
    (5.27, [0.55]), (5.22, [0.5, 0.57]),
]
FE_RIGHT = [
    (7.00, [0.135]), (7.06, [0.16, 0.145]), (7.11, [0.165, 0.2, 0.245]),
    (7.17, [0.16, 0.19, 0.235, 0.28]), (7.23, [0.17, 0.21, 0.26, 0.31, 0.36]),
    (7.30, [0.16, 0.2, 0.24, 0.3, 0.37]), (7.37, [0.155, 0.19, 0.235, 0.29, 0.36, 0.43]),
    (7.43, [0.17, 0.21, 0.26, 0.32, 0.4, 0.5]), (7.48, [0.16, 0.195, 0.24, 0.3, 0.38, 0.47, 0.54]),
    (7.53, [0.17, 0.21, 0.26, 0.33, 0.41, 0.5, 0.56]), (7.58, [0.18, 0.225, 0.28, 0.35, 0.43, 0.52]),
    (7.63, [0.166, 0.2, 0.25, 0.31, 0.38]), (7.70, [0.17, 0.21, 0.26, 0.32]),
    (7.76, [0.18, 0.22, 0.27, 0.36]), (7.84, [0.166, 0.2, 0.24, 0.29]),
    (7.89, [0.155, 0.19, 0.23, 0.27, 0.3]), (7.95, [0.14, 0.17, 0.21, 0.26, 0.29]),
    (8.01, [0.13, 0.155, 0.19, 0.23, 0.28]), (8.07, [0.124, 0.145, 0.175, 0.215, 0.26]),
    (8.13, [0.155, 0.19, 0.23, 0.28]), (8.20, [0.165, 0.2, 0.25, 0.3]),
    (8.26, [0.18, 0.22, 0.27, 0.31]), (8.30, [0.17, 0.21, 0.26, 0.32]),
    (8.36, [0.2, 0.25, 0.316]), (8.41, [0.24, 0.3, 0.385, 0.45]),
    (7.14, [0.175, 0.215, 0.265]), (7.20, [0.185, 0.23, 0.285, 0.33]),
    (7.27, [0.18, 0.22, 0.27, 0.335]), (7.34, [0.175, 0.215, 0.265, 0.33, 0.4]),
    (7.40, [0.19, 0.235, 0.29, 0.36, 0.45]), (7.46, [0.18, 0.225, 0.28, 0.35, 0.43, 0.52]),
    (7.51, [0.19, 0.235, 0.29, 0.36, 0.45, 0.53]), (7.56, [0.2, 0.25, 0.31, 0.38, 0.47]),
    (7.61, [0.185, 0.225, 0.28, 0.34]), (7.67, [0.19, 0.235, 0.29, 0.34]),
    (7.73, [0.2, 0.24, 0.29, 0.34]), (7.80, [0.18, 0.22, 0.26, 0.31]),
    (7.87, [0.17, 0.21, 0.25, 0.29]), (7.92, [0.155, 0.185, 0.23, 0.28]),
    (7.98, [0.145, 0.18, 0.22, 0.27]), (8.04, [0.14, 0.17, 0.21, 0.25, 0.28]),
    (8.10, [0.14, 0.17, 0.205, 0.25]), (8.16, [0.175, 0.21, 0.26, 0.29]),
    (8.23, [0.19, 0.235, 0.285, 0.3]), (8.33, [0.19, 0.235, 0.29, 0.33]),
    (8.38, [0.22, 0.27, 0.316]),
]

# cumulative thermal conductivity of the inset
FE_CUM_W = [0, 0.18, 0.36, 0.54, 0.78, 1.03, 1.39, 1.57, 1.75, 2.11, 2.47, 2.83, 3.31, 3.92, 4.4, 4.88, 5.37, 7.05, 7.3, 7.9, 8.38, 9]
FE_CUM = [0, 0, 0.08, 0.13, 0.18, 0.27, 0.38, 0.48, 0.515, 0.58, 0.66, 0.70, 0.72, 0.76, 0.84, 0.87, 0.87, 0.87, 0.895, 0.955, 1.0, 1.0]
CO_CUM_W = [0, 0.18, 0.42, 0.72, 1.03, 1.39, 1.69, 1.99, 2.23, 2.59, 3.07, 3.43, 3.8, 4.16, 4.64, 5.36, 5.84, 9]
CO_CUM = [0, 0, 0.04, 0.13, 0.24, 0.465, 0.665, 0.76, 0.795, 0.825, 0.865, 0.878, 0.89, 0.94, 0.97, 0.99, 0.995, 1.0]
LA_CUM_W = [0, 0.18, 0.42, 0.78, 1.14, 1.5, 1.87, 2.35, 2.77, 3.07, 3.55, 4.04, 4.52, 5.12, 5.48, 6.6, 7.8, 8.4, 9]
LA_CUM = [0, 0, 0.09, 0.19, 0.30, 0.515, 0.615, 0.715, 0.815, 0.85, 0.885, 0.925, 0.965, 0.975, 0.99, 0.99, 0.995, 1.0, 1.0]
YB_CUM_W = [0, 0.12, 0.3, 0.48, 0.6, 0.9, 1.2, 1.39, 1.63, 1.99, 2.47, 2.95, 3.55, 3.92, 4.28, 4.76, 5.24, 6.08, 6.45, 6.75, 7.1, 7.4, 9]
YB_CUM = [0, 0.005, 0.14, 0.165, 0.265, 0.315, 0.34, 0.39, 0.50, 0.575, 0.65, 0.685, 0.715, 0.745, 0.795, 0.825, 0.855, 0.855, 0.90, 0.93, 0.98, 1.0, 1.0]

FE_LABEL = r'$\mathbf{FeSb_3}$'
CO_LABEL = r'$\mathbf{CoSb_3}$'
LA_LABEL = r'$\mathbf{LaFe_4Sb_{12}}$'
YB_LABEL = r'$\mathbf{YbFe_4Sb_{12}}$'


def expand(*groups):
    xs, ys = [], []
    for columns in groups:
        for w, rates in columns:
            xs += [w] * len(rates)
            ys += rates
    return xs, ys


def bold_legend_math(leg):
    for txt in leg.get_texts():
        txt.set_math_fontfamily('dejavusans')


W, H = 652, 648
fig = plt.figure(figsize=(W / 100, H / 100), dpi=100, facecolor='white')
ax = fig.add_axes([76 / W, (H - 604) / H, 578.7 / W, 594 / H])

mark = dict(linestyle='none', markersize=6.0, markeredgecolor='black', markeredgewidth=0.7)
ax.plot(*expand(YB_LEFT, YB_CLOUD, YB_FILL, YB_ISLAND), 'D', color='cyan', zorder=2, **mark)
ax.plot(*expand(CO_LEFT, CO_BAND, CO_FILL, CO_RIGHT), 's', color='green', zorder=3, **mark)
ax.plot(*expand(LA_LEFT, LA_BAND, LA_FILL, LA_RIGHT), '^', color='blue', zorder=4, **mark)
ax.plot(*expand(FE_LEFT, FE_BLOB1, FE_FILL, FE_BLOB2, FE_RIGHT), 'o', color='red', zorder=5, **mark)

ax.set_yscale('log')
ax.set_xlim(0, 9)
ax.set_ylim(1e-3, 99)
ax.xaxis.set_major_locator(MultipleLocator(2))
ax.xaxis.set_minor_locator(MultipleLocator(0.5))
ax.yaxis.set_tick_params(labelsize=10.5)
ax.tick_params(which='major', length=6, width=0.8, top=True, right=True, labelsize=10.5)
ax.tick_params(which='minor', length=3, width=0.6, top=True, right=True)
for lab in ax.get_yticklabels():
    lab.set_math_fontfamily('dejavusans')
ax.set_xlabel(r'$\mathrm{\omega}$ (THz)', fontsize=12.8, fontweight='bold', labelpad=2)
ax.set_ylabel('Anharmonic scattering rates (THz)', fontsize=12.6, fontweight='bold', labelpad=5, y=0.485)

handles = [
    plt.Line2D([], [], marker='o', color='red', label=FE_LABEL, **mark),
    plt.Line2D([], [], marker='s', color='green', label=CO_LABEL, **mark),
    plt.Line2D([], [], marker='^', color='blue', label=LA_LABEL, **mark),
    plt.Line2D([], [], marker='D', color='cyan', label=YB_LABEL, **mark),
]
leg = ax.legend(handles=handles, loc='upper left', bbox_to_anchor=(0.675, 0.948), frameon=False,
                numpoints=1, fontsize=11.5, labelspacing=0.5, handlelength=1.0, handletextpad=1.3)
bold_legend_math(leg)
leg.set_zorder(10)

inset = fig.add_axes([402 / W, (H - 562.7) / H, 248.3 / W, 141 / H], zorder=20)
inset.plot(FE_CUM_W, FE_CUM, color='red', lw=1.8, label=FE_LABEL)
inset.plot(CO_CUM_W, CO_CUM, color='green', lw=1.8, label=CO_LABEL)
inset.plot(LA_CUM_W, LA_CUM, color='blue', lw=1.8, label=LA_LABEL)
inset.plot(YB_CUM_W, YB_CUM, color='cyan', lw=1.8, label=YB_LABEL)
inset.set_xlim(0, 9)
inset.set_ylim(0, 1.05)
inset.xaxis.set_major_locator(MultipleLocator(2))
inset.yaxis.set_major_locator(MultipleLocator(0.2))
inset.tick_params(length=4, width=0.7, top=True, right=True, labelsize=9.5, pad=2)
inset.set_xlabel(r'$\mathrm{\omega}$ (THZ)', fontsize=10, fontweight='bold', labelpad=1)
inset.set_ylabel(r'Cumulative $\mathrm{\kappa_l}$', fontsize=10.3, fontweight='bold', labelpad=2)
leg2 = inset.legend(loc='center right', bbox_to_anchor=(0.955, 0.37), frameon=False, fontsize=9,
                    labelspacing=0.55, handlelength=1.6, handletextpad=1.1, borderaxespad=0.1)
bold_legend_math(leg2)

fig.savefig('out.png', dpi=100, facecolor='white')
